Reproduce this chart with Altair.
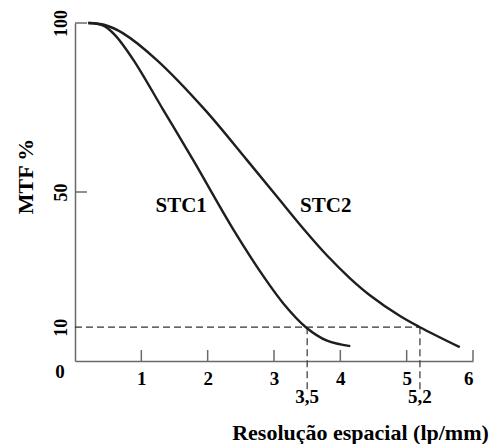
import altair as alt
import pandas as pd

# MTF curves for the two systems (spatial resolution in lp/mm vs MTF %)
stc1_x = [0.2, 0.42, 0.6, 0.88, 1.33, 1.78, 2.39, 2.86, 3.15, 3.48, 3.8, 4.15]
stc1_y = [100, 99.3, 96.5, 89.1, 74.3, 59.5, 38.8, 24.5, 16.8, 10.0, 6.0, 4.4]
stc2_x = [0.2, 0.45, 0.72, 1.23, 1.96, 2.59, 3.05, 3.44, 3.8, 4.15, 4.45, 4.9, 5.2, 5.8]
stc2_y = [100, 99.4, 97.0, 89.1, 74.3, 59.5, 48.5, 39.2, 31.2, 24.4, 19.4, 13.3, 10.0, 4.1]

x_ticks = [1, 2, 3, 4, 5, 6]
y_ticks = [50, 100]
y_labels = [10, 50, 100]

threshold = 10
cutoffs = [3.5, 5.2]
cutoff_labels = ["3,5", "5,2"]

series_names = ["STC1", "STC2"]
series_label_x = [1.6, 3.78]
series_label_y = [46, 46]

FONT = "Liberation Serif"
GRAY = "#6a6a6a"
INK = "#1e1e1e"

curves = pd.DataFrame({
    "x": stc1_x + stc2_x,
    "y": stc1_y + stc2_y,
    "s": ["STC1"] * len(stc1_x) + ["STC2"] * len(stc2_x),
})

xs = alt.Scale(domain=[0, 6], nice=False, zero=True)
ys = alt.Scale(domain=[0, 100], nice=False)

x_axis = alt.Axis(
    values=x_ticks, format="d", ticks=False, grid=False, domainColor=GRAY, domainWidth=1.5,
    labelFont=FONT, labelFontWeight="bold", labelFontSize=19, labelColor="black",
    labelPadding=8, title="Resolução espacial (lp/mm)", titleFont=FONT,
    titleFontWeight="bold", titleFontSize=22, titleColor="black",
    titleX=285, titleY=71, titleAlign="center", titleBaseline="middle",
)
y_axis = alt.Axis(
    values=y_labels, format="d", ticks=False, grid=False, domainColor=GRAY, domainWidth=1.5,
    labelFont=FONT, labelFontWeight="bold", labelFontSize=18, labelColor="black",
    labelAngle=270, labelAlign="center", labelBaseline="bottom", labelPadding=5,
    title="MTF %", titleFont=FONT, titleFontWeight="bold", titleFontSize=22,
    titleColor="black", titleAngle=270, titleX=-50, titleY=153,
    titleAlign="center", titleBaseline="middle",
)

lines = alt.Chart(curves).mark_line(
    color=INK, strokeWidth=2.4, interpolate="catmull-rom"
).encode(
    x=alt.X("x:Q", scale=xs, axis=x_axis),
    y=alt.Y("y:Q", scale=ys, axis=y_axis),
    detail="s:N",
)

# dashed guide at MTF = 10 %
hline = alt.Chart(pd.DataFrame({"x0": [0], "x1": [max(cutoffs)], "y": [threshold]})).mark_rule(
    color="#333333", strokeWidth=1.2, strokeDash=[7, 4]
).encode(x=alt.X("x0:Q", scale=xs), x2="x1:Q", y=alt.Y("y:Q", scale=ys))

vlines = alt.Chart(pd.DataFrame({"x": cutoffs, "y0": [threshold] * 2, "y1": [-8.5] * 2})).mark_rule(
    color="#333333", strokeWidth=1.2, strokeDash=[7, 4]
).encode(x=alt.X("x:Q", scale=xs), y=alt.Y("y0:Q", scale=ys), y2="y1:Q")

# inward tick marks
xtick_marks = alt.Chart(pd.DataFrame({"x": x_ticks})).mark_rule(
    color=GRAY, strokeWidth=1.5
).encode(x=alt.X("x:Q", scale=xs), y=alt.value(338), y2=alt.value(327))

ytick_marks = alt.Chart(pd.DataFrame({"y": y_ticks})).mark_rule(
    color=GRAY, strokeWidth=1.5
).encode(y=alt.Y("y:Q", scale=ys), x=alt.value(0), x2=alt.value(12))

series_text = alt.Chart(pd.DataFrame({
    "x": series_label_x, "y": series_label_y, "t": series_names
})).mark_text(
    font=FONT, fontWeight="bold", fontSize=21, color="black", baseline="middle"
).encode(x=alt.X("x:Q", scale=xs), y=alt.Y("y:Q", scale=ys), text="t:N")

cutoff_text = alt.Chart(pd.DataFrame({"x": cutoffs, "t": cutoff_labels})).mark_text(
    font=FONT, fontWeight="bold", fontSize=19, color="black", baseline="middle"
).encode(x=alt.X("x:Q", scale=xs), y=alt.value(374), text="t:N")

zero_text = alt.Chart(pd.DataFrame({"x": [0], "y": [0], "t": ["0"]})).mark_text(
    font=FONT, fontWeight="bold", fontSize=19, color="black", baseline="middle",
    dx=-15, dy=11
).encode(x=alt.X("x:Q", scale=xs), y=alt.Y("y:Q", scale=ys), text="t:N")

chart = alt.layer(
    hline, vlines, xtick_marks, ytick_marks, lines, series_text, cutoff_text, zero_text
).properties(
    width=398, height=338,
    autosize=alt.AutoSizeParams(type="none"),
    padding={"left": 75, "top": 23, "right": 22, "bottom": 83},
).configure_view(stroke=None)

chart.save("out.html", embed_options={"renderer": "svg", "actions": False})
